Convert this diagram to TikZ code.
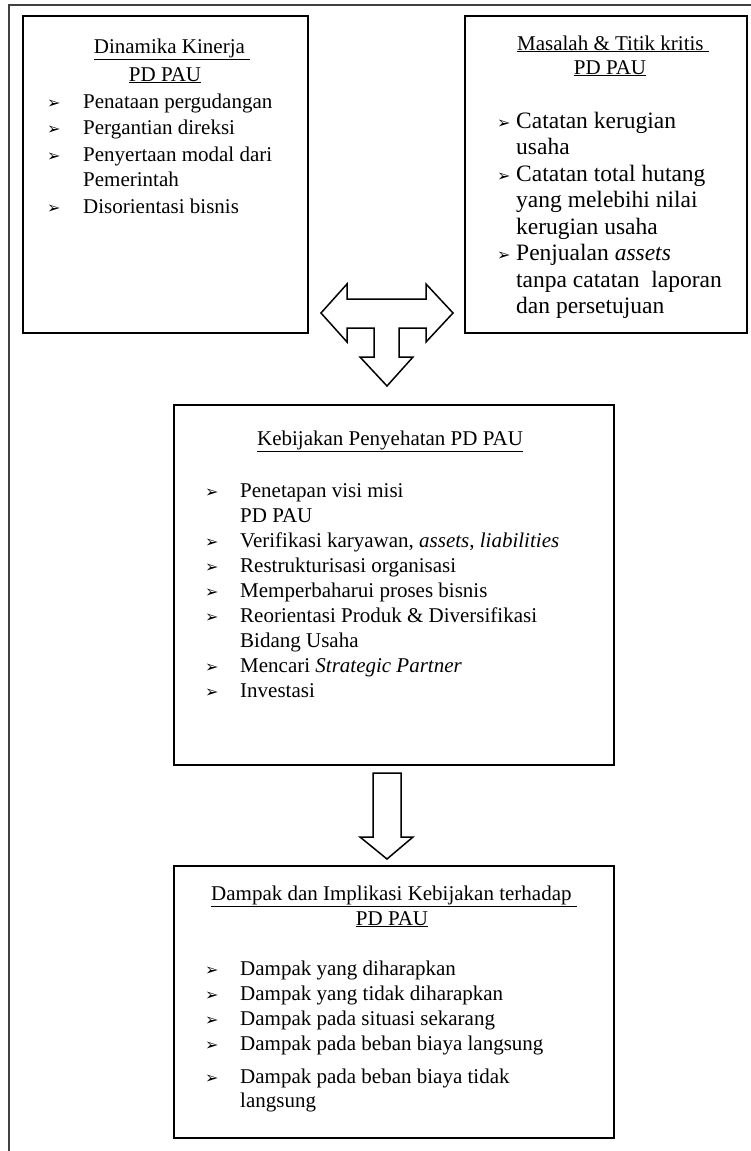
\documentclass[tikz,border=0pt]{standalone}
\usepackage{fontspec}
\setmainfont{Liberation Serif}
\newfontfamily\dejavu{DejaVu Sans}
\newcommand{\arrbul}{{\dejavu\fontsize{16}{16}\selectfont\char"27A2}}
\begin{document}
\begin{tikzpicture}[x=1pt,y=-1pt,
  box/.style={draw=black, line width=1.2pt, minimum width=#1, anchor=north west, inner sep=0pt, outer sep=0pt},
  txt/.style={anchor=base west, inner sep=0pt, font=\fontsize{21}{25}\selectfont},
  txtb/.style={anchor=base west, inner sep=0pt, font=\fontsize{23.5}{27}\selectfont},
  ctr/.style={anchor=base, inner sep=0pt, font=\fontsize{21}{25}\selectfont},
  bul/.style={anchor=base west, inner sep=0pt},
  blk/.style={draw=black, line width=1.5pt, line join=miter, fill=white},
  frame/.style={draw=black!75, line width=1.5pt}]
\useasboundingbox (0,0) rectangle (751,1151);
% outer frame
\draw[frame] (9,1151) -- (9,5) -- (751,5);
% boxes
\node[box=285pt, minimum height=317pt] (b1) at (23,16) {};
\node[box=282pt, minimum height=317pt] (b2) at (465,16) {};
\node[box=440pt, minimum height=360pt] (b3) at (174,405) {};
\node[box=440pt, minimum height=272pt] (b4) at (174,866) {};
% box 1
\node[ctr] (t1a) at (172,53) {\underline{Dinamika Kinerja\ }};
\node[ctr] (t1b) at (165,81) {\underline{PD PAU}};
\node[bul] (a11) at (47,108) {\arrbul};
\node[txt] (l11) at (83,108) {Penataan pergudangan};
\node[bul] (a12) at (47,134) {\arrbul};
\node[txt] (l12) at (83,134) {Pergantian direksi};
\node[bul] (a13) at (47,161) {\arrbul};
\node[txt] (l13) at (83,161) {Penyertaan modal dari};
\node[txt] (l14) at (83,186) {Pemerintah};
\node[bul] (a15) at (47,213) {\arrbul};
\node[txt] (l15) at (83,213) {Disorientasi bisnis};
% box 2
\node[ctr] (t2a) at (613,50) {\underline{Masalah \& Titik kritis\ }};
\node[ctr] (t2b) at (610,74) {\underline{PD PAU}};
\node[bul] (a21) at (497,128) {\arrbul};
\node[txtb] (l21) at (516,128) {Catatan kerugian};
\node[txtb] (l22) at (516,154.5) {usaha};
\node[bul] (a23) at (497,181) {\arrbul};
\node[txtb] (l23) at (516,181) {Catatan total hutang};
\node[txtb] (l24) at (516,207.5) {yang melebihi nilai};
\node[txtb] (l25) at (516,234) {kerugian usaha};
\node[bul] (a26) at (497,260.5) {\arrbul};
\node[txtb] (l26) at (516,260.5) {Penjualan \textit{assets}};
\node[txtb] (l27) at (516,287) {tanpa catatan \ laporan};
\node[txtb] (l28) at (516,313.5) {dan persetujuan};
% T arrow
\draw[blk] (321,313) -- (347,284) -- (347,299) -- (426,299) -- (426,284) -- (453,313)
  -- (426,342) -- (426,328) -- (399,328) -- (399,357) -- (413,357) -- (387,386)
  -- (360,357) -- (374,357) -- (374,328) -- (347,328) -- (347,342) -- cycle;
% box 3
\node[ctr] (t3) at (390,445) {\underline{Kebijakan Penyehatan PD PAU}};
\node[bul] (a31) at (205,497) {\arrbul};
\node[txt] (l31) at (240,497) {Penetapan visi misi};
\node[txt] (l32) at (240,522) {PD PAU};
\node[bul] (a33) at (205,547) {\arrbul};
\node[txt] (l33) at (240,547) {Verifikasi karyawan, \textit{assets}, \textit{liabilities}};
\node[bul] (a34) at (205,572) {\arrbul};
\node[txt] (l34) at (240,572) {Restrukturisasi organisasi};
\node[bul] (a35) at (205,597) {\arrbul};
\node[txt] (l35) at (240,597) {Memperbaharui proses bisnis};
\node[bul] (a36) at (205,622) {\arrbul};
\node[txt] (l36) at (240,622) {Reorientasi Produk \& Diversifikasi};
\node[txt] (l37) at (240,647) {Bidang Usaha};
\node[bul] (a38) at (205,672) {\arrbul};
\node[txt] (l38) at (240,672) {Mencari \textit{Strategic Partner}};
\node[bul] (a39) at (205,697) {\arrbul};
\node[txt] (l39) at (240,697) {Investasi};
% down arrow
\draw[blk] (373,773) -- (401,773) -- (401,837) -- (413,837) -- (387,859) -- (360,837) -- (373,837) -- cycle;
% box 4
\node[ctr] (t4a) at (394,900) {\underline{Dampak dan Implikasi Kebijakan terhadap\ }};
\node[ctr] (t4b) at (392,925) {\underline{PD PAU}};
\node[bul] (a41) at (205,975) {\arrbul};
\node[txt] (l41) at (240,975) {Dampak yang diharapkan};
\node[bul] (a42) at (205,1000) {\arrbul};
\node[txt] (l42) at (240,1000) {Dampak yang tidak diharapkan};
\node[bul] (a43) at (205,1025) {\arrbul};
\node[txt] (l43) at (240,1025) {Dampak pada situasi sekarang};
\node[bul] (a44) at (205,1050) {\arrbul};
\node[txt] (l44) at (240,1050) {Dampak pada beban biaya langsung};
\node[bul] (a45) at (205,1083) {\arrbul};
\node[txt] (l45) at (240,1083) {Dampak pada beban biaya tidak};
\node[txt] (l46) at (240,1107) {langsung};
\end{tikzpicture}
\end{document}
